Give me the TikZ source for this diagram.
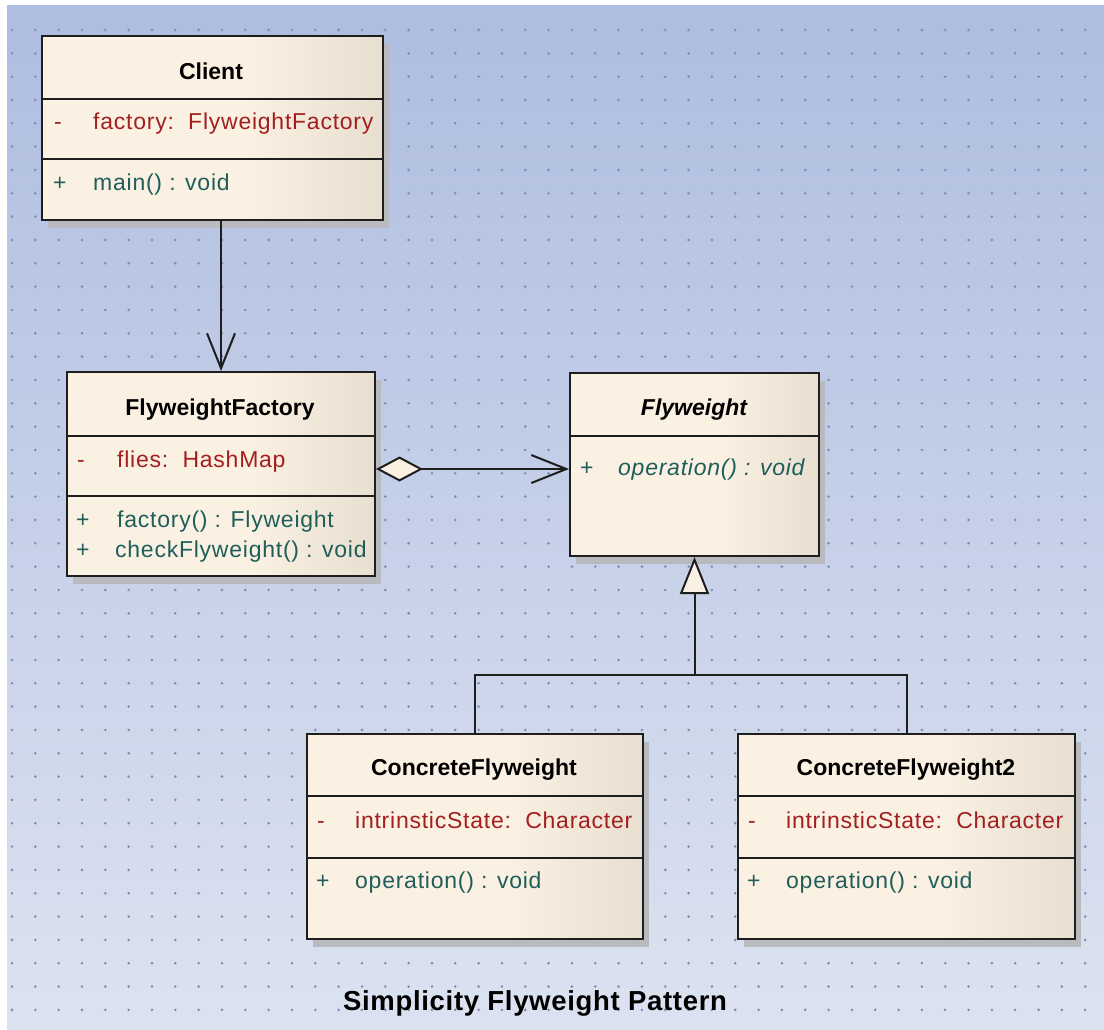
\documentclass[tikz,border=0pt]{standalone}
\usepackage{fontspec}
\setmainfont{Liberation Sans}
\newfontfamily\memberfont{Liberation Sans}[LetterSpace=3.3]
\newfontfamily\captionfont{Liberation Sans}[LetterSpace=2.5]
\usetikzlibrary{arrows.meta,shadows}

\definecolor{bgtop}{HTML}{AEBDE0}
\definecolor{bgbot}{HTML}{DCE2F0}
\definecolor{griddot}{HTML}{7F8AAD}
\definecolor{cream}{HTML}{FBF1E3}
\definecolor{creamdark}{HTML}{E8DFD1}
\definecolor{attrred}{HTML}{A31F1F}
\definecolor{opteal}{HTML}{1F5E5B}
\definecolor{edge}{HTML}{1E1E1E}
\definecolor{shadowgray}{HTML}{B9BABD}

% class body: flat cream over most of the width, darkening towards the right edge
\pgfdeclarehorizontalshading{classfill}{100bp}{color(0bp)=(cream); color(55bp)=(cream);
  color(75bp)=(creamdark); color(100bp)=(creamdark)}

\begin{document}
\begin{tikzpicture}[x=1pt,y=-1pt,
  classbox/.style={rectangle, draw=edge, line width=2pt, anchor=north west, inner sep=0pt,
    shading=classfill,
    general shadow={fill=shadowgray, shadow xshift=6pt, shadow yshift=-8pt}},
  divider/.style={draw=edge, line width=2pt},
  txt/.style={inner sep=0pt, anchor=base west, font=\memberfont\fontsize{23}{27}\selectfont},
  attr/.style={txt, text=attrred},
  oper/.style={txt, text=opteal},
  classname/.style={inner sep=0pt, anchor=base, text=black, font=\bfseries\fontsize{23}{27}\selectfont},
  link/.style={draw=edge, line width=2pt},
  openhead/.style={-{Straight Barb[length=35pt,width=28pt]}},
]

% canvas with a dotted grid
\useasboundingbox (0,0) rectangle (1104,1030);
\fill[white] (0,0) rectangle (1104,1030);
\shade[top color=bgtop, bottom color=bgbot] (7,6) rectangle (1104,1030);
\foreach \i in {0,...,46}
  \foreach \j in {0,...,42}
    \fill[griddot] (12+23.33*\i, 30+23.33*\j) circle (1.4pt);

% Client
\node[classbox, minimum width=341pt, minimum height=184pt] (client) at (41,35) {};
\draw[divider] (client.west |- 0,99) -- (client.east |- 0,99);
\draw[divider] (client.west |- 0,159) -- (client.east |- 0,159);
\node[classname] (clientname) at (211,80) {Client};
\node[attr] (clientattrsign) at (54,130) {-};
\node[attr] (clientattr) at (93,130) {factory:\ \ FlyweightFactory};
\node[oper] (clientopsign) at (53,191) {+};
\node[oper] (clientop) at (93,191) {main() : void};

% FlyweightFactory
\node[classbox, minimum width=308pt, minimum height=204pt] (factory) at (66,371) {};
\draw[divider] (factory.west |- 0,436) -- (factory.east |- 0,436);
\draw[divider] (factory.west |- 0,496) -- (factory.east |- 0,496);
\node[classname] (factoryname) at (220,415) {FlyweightFactory};
\node[attr] (factoryattrsign) at (77,467) {-};
\node[attr] (factoryattr) at (117,467) {flies:\ \ HashMap};
\node[oper] (factoryopsignA) at (76,527) {+};
\node[oper] (factoryopA) at (117,527) {factory() : Flyweight};
\node[oper] (factoryopsignB) at (76,557) {+};
\node[oper] (factoryopB) at (115,557) {checkFlyweight() : void};

% Flyweight (abstract)
\node[classbox, minimum width=249pt, minimum height=183pt] (fly) at (569,372) {};
\draw[divider] (fly.west |- 0,436) -- (fly.east |- 0,436);
\node[classname, font=\bfseries\itshape\fontsize{23}{27}\selectfont] (flyname) at (694,415) {Flyweight};
\node[oper] (flyopsign) at (580,475) {+};
\node[oper, font=\memberfont\itshape\fontsize{23}{27}\selectfont] (flyop) at (618,475) {operation() : void};

% ConcreteFlyweight
\node[classbox, minimum width=336pt, minimum height=205pt] (conc) at (306,733) {};
\draw[divider] (conc.west |- 0,796) -- (conc.east |- 0,796);
\draw[divider] (conc.west |- 0,858) -- (conc.east |- 0,858);
\node[classname] (concname) at (474,775) {ConcreteFlyweight};
\node[attr] (concattrsign) at (317,828) {-};
\node[attr] (concattr) at (355,828) {intrinsticState:\ \ Character};
\node[oper] (concopsign) at (316,888) {+};
\node[oper] (concop) at (355,888) {operation() : void};

% ConcreteFlyweight2
\node[classbox, minimum width=337pt, minimum height=205pt] (concb) at (737,733) {};
\draw[divider] (concb.west |- 0,796) -- (concb.east |- 0,796);
\draw[divider] (concb.west |- 0,858) -- (concb.east |- 0,858);
\node[classname] (concbname) at (906,775) {ConcreteFlyweight2};
\node[attr] (concbattrsign) at (748,828) {-};
\node[attr] (concbattr) at (786,828) {intrinsticState:\ \ Character};
\node[oper] (concbopsign) at (747,888) {+};
\node[oper] (concbop) at (786,888) {operation() : void};

% association Client -> FlyweightFactory
\draw[link, openhead] (factory.north |- client.south) -- (factory.north);

% aggregation FlyweightFactory <>-> Flyweight
\draw[link, {Diamond[length=47pt,width=25pt,fill=cream]}-{Straight Barb[length=35pt,width=28pt]}]
  (factory.east |- 0,469) -- (fly.west |- 0,469);

% generalization of both concrete classes
\coordinate (junction) at (fly.south |- 0,675);
\draw[link] (conc.north) |- (junction);
\draw[link] (concb.north) |- (junction);
\draw[link, -{Triangle[length=37pt,width=29pt,fill=cream]}] (junction) -- (fly.south);

% diagram caption
\node[classname, font=\captionfont\bfseries\fontsize{27.5}{32}\selectfont] (caption) at (535,1010) {Simplicity Flyweight Pattern};

\end{tikzpicture}
\end{document}
